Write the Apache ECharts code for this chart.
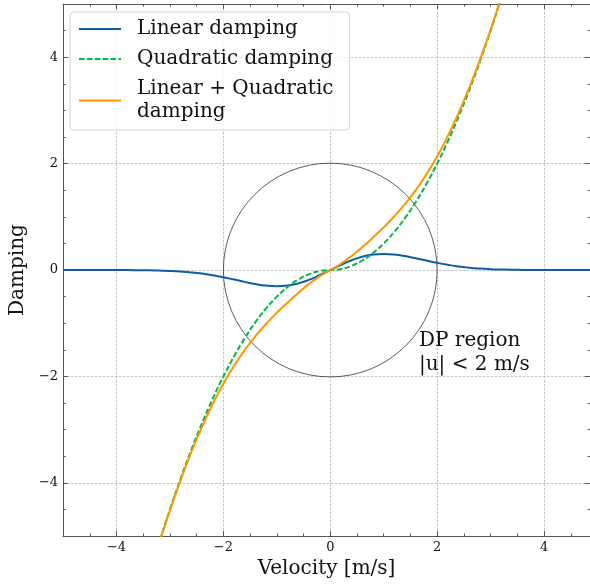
<!DOCTYPE html>
<html><head><meta charset="utf-8">
<script src="https://cdn.jsdelivr.net/npm/echarts@6/dist/echarts.min.js"></script>
<style>html,body{margin:0;padding:0;background:#fff}#c{width:590px;height:584px}</style>
</head><body><div id="c"></div>
<script>
// Velocity samples [m/s]
const velocity = [-5.0,-4.8,-4.6,-4.4,-4.2,-4.0,-3.8,-3.6,-3.4,-3.2,-3.0,-2.8,-2.6,-2.4,-2.2,-2.0,-1.8,-1.6,-1.4,-1.2,-1.0,-0.8,-0.6,-0.4,-0.2,0,
  0.2,0.4,0.6,0.8,1.0,1.2,1.4,1.6,1.8,2.0,2.2,2.4,2.6,2.8,3.0,3.2,3.4,3.6,3.8,4.0,4.2,4.4,4.6,4.8,5.0];
const linearDamping = [0,0,0,0,0,-0.001,-0.001,-0.003,-0.005,-0.010,-0.017,-0.028,-0.044,-0.067,-0.098,-0.135,-0.178,-0.222,-0.263,-0.292,-0.303,-0.291,-0.251,-0.185,-0.098,0,
  0.098,0.185,0.251,0.291,0.303,0.292,0.263,0.222,0.178,0.135,0.098,0.067,0.044,0.028,0.017,0.010,0.005,0.003,0.001,0.001,0,0,0,0,0];
const quadraticDamping = [null,null,null,null,null,null,null,null,-5.78,-5.12,-4.5,-3.92,-3.38,-2.88,-2.42,-2.0,-1.62,-1.28,-0.98,-0.72,-0.5,-0.32,-0.18,-0.08,-0.02,0,
  0.02,0.08,0.18,0.32,0.5,0.72,0.98,1.28,1.62,2.0,2.42,2.88,3.38,3.92,4.5,5.12,5.78,null,null,null,null,null,null,null,null];
const combinedDamping = [null,null,null,null,null,null,null,null,-5.785,-5.130,-4.517,-3.948,-3.424,-2.947,-2.518,-2.135,-1.798,-1.502,-1.243,-1.012,-0.803,-0.611,-0.431,-0.265,-0.118,0,
  0.118,0.265,0.431,0.611,0.803,1.012,1.243,1.502,1.798,2.135,2.518,2.947,3.424,3.948,4.517,5.130,5.785,null,null,null,null,null,null,null,null];
const majorTicks = [-4,-2,0,2,4];
const circleData = [[0, 0, 2]]; // centre x, centre y, radius
const annotationData = [[1.66, -2.0]];
const annotationText = 'DP region\n|u| < 2 m/s';
const seriesNames = ['Linear damping', 'Quadratic damping', 'Linear + Quadratic\ndamping'];

const FONT = 'DejaVu Serif';
const AX = '#555';
const fmt = v => String(v).replace('-', '\u2212');

function majorAxis(position, showLabel, name, nameGap, max, extra) {
  return Object.assign({
    type: 'value', min: -5, max: max, interval: 0.5, position: position, gridIndex: 0,
    axisLine: { show: true, onZero: false, lineStyle: { color: AX, width: 1 } },
    axisTick: { show: true, inside: true, length: 5, customValues: majorTicks, lineStyle: { color: AX, width: 1 } },
    minorTick: { show: false },
    axisLabel: { show: showLabel, customValues: majorTicks, formatter: fmt, margin: 5,
      fontFamily: FONT, fontSize: 13, color: '#111' },
    splitLine: { show: showLabel, lineStyle: { color: '#b4b4b4', width: 0.8, type: [2.5, 1.5] } },
    name: name, nameLocation: 'middle', nameGap: nameGap,
    nameTextStyle: { fontFamily: FONT, fontSize: 20, color: '#111' }
  }, extra || {});
}
function minorAxis(position, max) {
  return {
    type: 'value', min: -5, max: max, interval: 0.5, position: position, gridIndex: 0,
    axisLine: { show: false, onZero: false },
    axisTick: { show: true, inside: true, length: 2.5, lineStyle: { color: AX, width: 1 } },
    axisLabel: { show: false }, splitLine: { show: false }, minorTick: { show: false }
  };
}

const X_MAX = 4.86;
const chart = echarts.init(document.getElementById('c'), null, { renderer: 'canvas' });
chart.setOption({
  animation: false,
  backgroundColor: '#fff',
  grid: { left: 61, top: 4, right: 0, height: 535, containLabel: false },
  xAxis: [
    majorAxis('bottom', true, 'Velocity [m/s]', 20, X_MAX),
    majorAxis('top', false, '', 0, X_MAX),
    minorAxis('bottom', X_MAX),
    minorAxis('top', X_MAX)
  ],
  yAxis: [
    majorAxis('left', true, 'Damping', 30, 5, { nameRotate: 90 }),
    majorAxis('right', false, '', 0, 5),
    minorAxis('left', 5),
    minorAxis('right', 5)
  ],
  legend: {
    orient: 'vertical', left: 70, top: 12, padding: [5.5, 16, 6.5, 8], itemGap: 7,
    itemWidth: 42, itemHeight: 12,
    itemStyle: { opacity: 0, borderWidth: 0 },
    backgroundColor: 'rgba(255,255,255,0.85)', borderColor: '#d4d4d4', borderWidth: 1, borderRadius: 4,
    textStyle: { fontFamily: FONT, fontSize: 20, lineHeight: 23, color: '#111', padding: [0, 0, 0, 11] },
    data: seriesNames
  },
  series: [
    {
      type: 'custom', name: 'circle', coordinateSystem: 'cartesian2d', z: 1, silent: true,
      data: circleData,
      renderItem: function (params, api) {
        const c = api.coord([api.value(0), api.value(1)]);
        const r = api.size([api.value(2), 0])[0];
        return { type: 'circle', shape: { cx: c[0], cy: c[1], r: r },
          style: { fill: 'none', stroke: '#333', lineWidth: 0.8 } };
      }
    },
    {
      type: 'custom', name: 'annotation', coordinateSystem: 'cartesian2d', z: 5, silent: true,
      data: annotationData,
      renderItem: function (params, api) {
        const p = api.coord([api.value(0), api.value(1)]);
        return { type: 'text', x: p[0], y: p[1],
          style: { text: annotationText, fontFamily: FONT, fontSize: 20, lineHeight: 23.5,
            fill: '#111', align: 'left', verticalAlign: 'bottom' } };
      }
    },
    {
      type: 'line', name: seriesNames[0], z: 2, showSymbol: false, symbol: 'none', smooth: true,
      data: velocity.map((v, i) => [v, linearDamping[i]]),
      lineStyle: { color: '#0C5DA5', width: 2 }, itemStyle: { color: '#0C5DA5' }
    },
    {
      type: 'line', name: seriesNames[1], z: 3, showSymbol: false, symbol: 'none', smooth: true,
      data: velocity.map((v, i) => [v, quadraticDamping[i]]),
      lineStyle: { color: '#00B945', width: 2, type: [5.5, 2.4] }, itemStyle: { color: '#00B945' }
    },
    {
      type: 'line', name: seriesNames[2], z: 4, showSymbol: false, symbol: 'none', smooth: true,
      data: velocity.map((v, i) => [v, combinedDamping[i]]),
      lineStyle: { color: '#FF9500', width: 2 }, itemStyle: { color: '#FF9500' }
    }
  ]
});
</script></body></html>
